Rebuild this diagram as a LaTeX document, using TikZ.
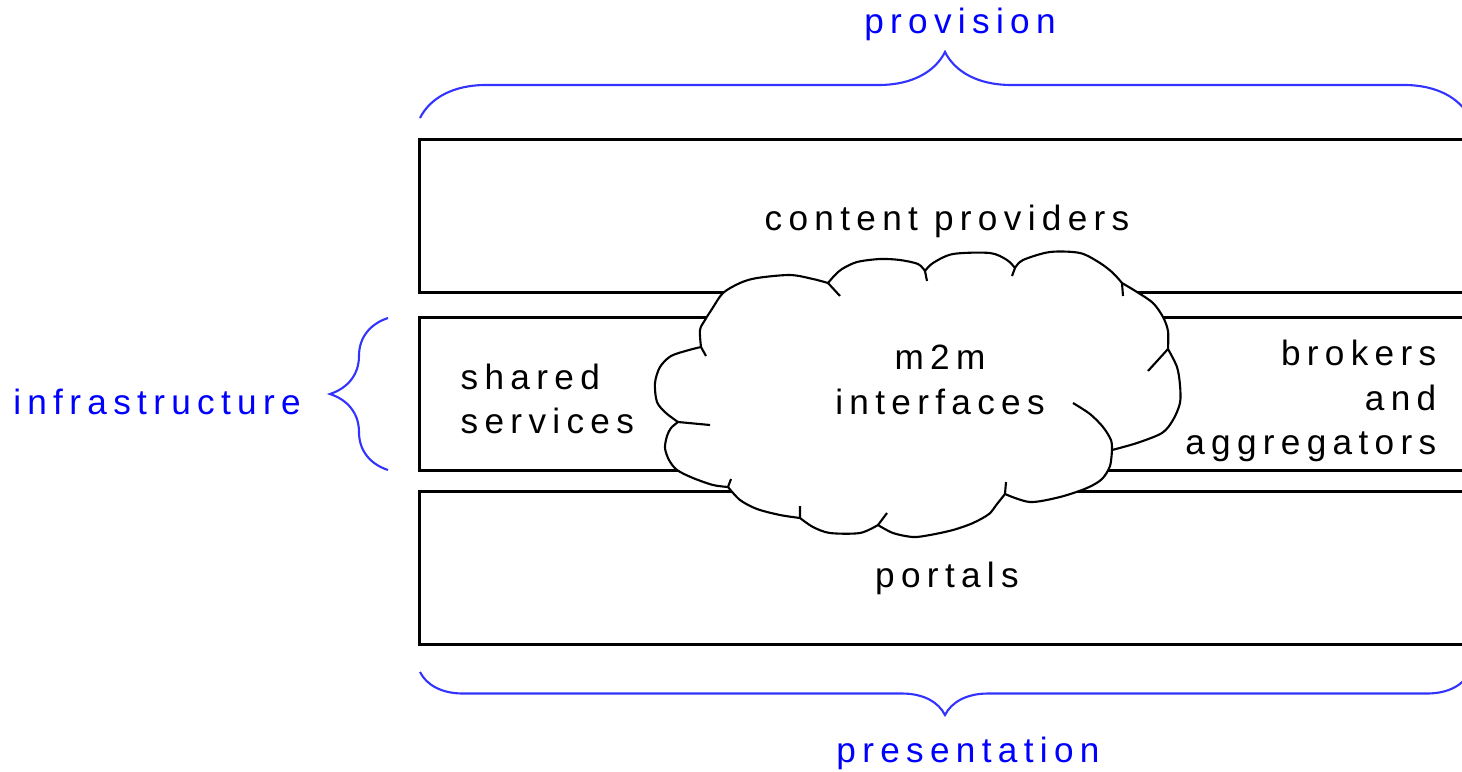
\documentclass[tikz,border=0pt]{standalone}
\usepackage{fontspec}
\setmainfont{Liberation Sans}[LetterSpace=18]
\usetikzlibrary{decorations.pathreplacing}
\definecolor{labelblue}{RGB}{0,0,255}
\definecolor{braceblue}{RGB}{51,51,255}

\begin{document}
\begin{tikzpicture}[x=0.01cm, y=-0.01cm,
    layer/.style={draw, line width=0.85pt, minimum width=10.6cm, minimum height=1.52cm, inner sep=0pt},
    txt/.style={font=\fontsize{10}{12.6}\selectfont, inner sep=0pt},
    side/.style={txt, text=labelblue},
    puff/.style={line width=0.6pt, line join=round},
    curly/.style={draw=braceblue, line width=0.6pt, decorate, decoration={brace, amplitude=#1}}]
    \clip (0,0) rectangle (1462,772);
    % the three layers
    \node[layer] (provbox) at (950,216) {};
    \node[layer] (infrabox) at (950,394) {};
    \node[layer] (presbox) at (950,568) {};
    % cloud in the middle, puff by puff
    \filldraw[puff, fill=white]
      plot[smooth] coordinates {(701,347) (700,330) (705,320) (712,309) (723,293) (740,283) (757,278) (790,275) (813,279) (828,283)}
      -- plot[smooth] coordinates {(828,283) (835,275) (842,269) (857,262) (880,259) (900,260) (918,264) (925,271)}
      -- plot[smooth] coordinates {(925,271) (933,263) (953,254) (990,253) (1007,260) (1015,268)}
      -- plot[smooth] coordinates {(1015,268) (1023,260) (1050,252) (1080,253) (1100,263) (1113,273) (1122,283)}
      -- plot[smooth] coordinates {(1122,283) (1137,292) (1153,303) (1163,317) (1168,331) (1168,349)}
      -- plot[smooth] coordinates {(1168,349) (1177,367) (1180,385) (1180,403) (1173,420) (1162,433) (1137,443) (1112,450)}
      -- plot[smooth] coordinates {(1112,450) (1110,466) (1102,479) (1087,488) (1060,497) (1030,502) (1005,494)}
      -- plot[smooth] coordinates {(1005,494) (997,504) (989,514) (973,523) (953,530) (930,535) (913,537) (893,533) (878,525)}
      -- plot[smooth] coordinates {(878,525) (860,533) (830,533) (813,527) (800,518)}
      -- plot[smooth] coordinates {(800,518) (780,515) (757,509) (740,500) (728,487)}
      -- plot[smooth] coordinates {(728,487) (713,485) (693,478) (677,470) (669,460) (665,448) (667,436) (671,428) (678,422)}
      -- plot[smooth] coordinates {(678,422) (666,413) (657,402) (655,383) (660,367) (671,356) (689,350) (701,347)}
      -- cycle;
    \draw[puff] (828,283) -- (840,296) (925,271) -- (927,281) (1015,268) -- (1012,276)
      (1122,283) -- (1123,296) (1168,349) -- (1148,371) (1005,494) -- (1006,482)
      (878,525) -- (887,513) (800,518) -- (800,506) (728,487) -- (731,479)
      (678,422) -- (710,425) (701,347) -- (706,356);
    \draw[puff] plot[smooth] coordinates {(1112,450) (1111,440) (1103,427) (1090,414) (1073,403)};
    \node[txt, align=center] (m2m) at (940,380) {m2m\\interfaces};
    % layer texts
    \node[txt] (content) at (947,221) {content providers};
    \node[txt, align=left, anchor=west] (shared) at (460,399) {shared\\services};
    \node[txt, align=right, anchor=east] (brokers) at (1437,401) {brokers\\and\\aggregators};
    \node[txt] (portals) at (947,578) {portals};
    % braces
    \coordinate (provL) at (420,118);
    \coordinate (provR) at (1470,118);
    \coordinate (presL) at (420,672);
    \coordinate (presR) at (1470,672);
    \coordinate (infraB) at (388,470);
    \coordinate (infraT) at (388,318);
    \draw[curly=0.66cm] (provL) -- (provR);
    \draw[curly=0.43cm] (presR) -- (presL);
    \draw[curly=0.58cm] (infraB) -- (infraT);
    \node[side] (provision) at (960,24) {provision};
    \node[side] (presentation) at (968,753) {presentation};
    \node[side] (infrastructure) at (157,402) {infrastructure};
\end{tikzpicture}
\end{document}
